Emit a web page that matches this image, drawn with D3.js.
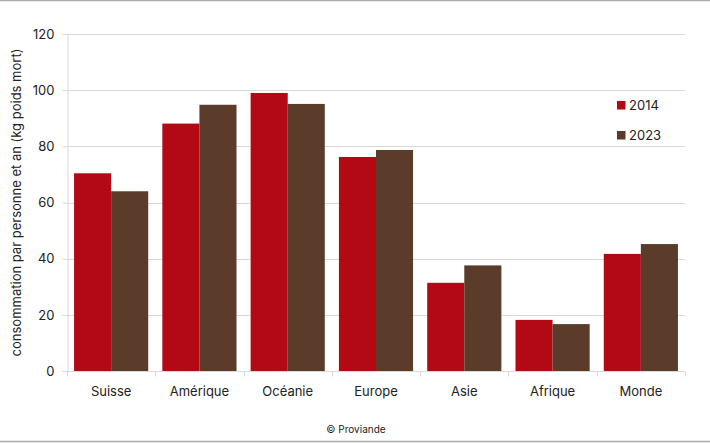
<!DOCTYPE html>
<html><head><meta charset="utf-8">
<script src="https://cdn.jsdelivr.net/npm/d3@7"></script>
<style>body{margin:0;background:#fff}svg{display:block;font-family:Inter,"Open Sans",sans-serif}</style>
</head><body><svg id="c" width="710" height="443"></svg>
<script>
const categories = ["Suisse","Amérique","Océanie","Europe","Asie","Afrique","Monde"];
const series = ["2014","2023"];
const values2014 = [70.4,88.1,99.0,76.2,31.4,18.2,41.7];
const values2023 = [64.0,94.8,95.1,78.7,37.6,16.7,45.2];
const yTicks = [0,20,40,60,80,100,120];
const colors = ["#b30914","#5b3b2a"];
const yTitle = "consommation par personne et an (kg poids mort)";
const credit = "© Proviande";

const svg = d3.select("#c");
const W=710,H=443;
const m={l:67,r:25,t:34,b:72};
const x = d3.scaleBand().domain(categories).range([m.l,W-m.r]).paddingInner(0.16).paddingOuter(0.08);
const x1 = d3.scaleBand().domain(series).range([0,x.bandwidth()]).padding(0);
const y = d3.scaleLinear().domain([0,120]).range([H-m.b,m.t]);

svg.append("line").attr("x1",0).attr("x2",W).attr("y1",0.5).attr("y2",0.5).attr("stroke","#aaa").attr("stroke-width",1.5);
svg.append("line").attr("x1",0).attr("x2",W).attr("y1",441.5).attr("y2",441.5).attr("stroke","#aaa").attr("stroke-width",1.5);

// grid
svg.append("g").selectAll("line").data(yTicks.filter(d=>d>0)).join("line")
  .attr("x1",m.l).attr("x2",W-m.r).attr("y1",d=>Math.round(y(d))+0.5).attr("y2",d=>Math.round(y(d))+0.5)
  .attr("stroke","#d9d9d9");

// y axis
const ya = svg.append("g").attr("transform",`translate(${m.l+0.5},0)`)
  .call(d3.axisLeft(y).tickValues(yTicks).tickSize(5).tickPadding(8));
ya.select(".domain").attr("stroke","#d9d9d9");
ya.selectAll(".tick line").attr("stroke","#d9d9d9");
ya.selectAll("text").attr("font-size",13).attr("fill","#222").attr("font-family","Inter, sans-serif");

// x axis with ticks at band boundaries
const xa = svg.append("g").attr("transform",`translate(0,${Math.round(y(0))+0.5})`);
xa.append("line").attr("x1",m.l).attr("x2",W-m.r).attr("stroke","#d9d9d9");
const bounds = categories.map(c=>x(c)-x.step()*x.paddingInner()/2).concat([W-m.r]);
bounds[0]=m.l;
xa.selectAll(".tk").data(bounds).join("line").attr("class","tk")
  .attr("x1",d=>Math.round(d)+0.5).attr("x2",d=>Math.round(d)+0.5).attr("y1",0).attr("y2",5).attr("stroke","#d9d9d9");
xa.selectAll("text").data(categories).join("text")
  .attr("x",d=>x(d)+x.bandwidth()/2).attr("y",20).attr("dy","0.35em")
  .attr("text-anchor","middle").attr("font-size",13).attr("fill","#222").text(d=>d);

// bars
const data = categories.map((c,i)=>({c, v:[values2014[i],values2023[i]]}));
const g = svg.append("g").selectAll("g").data(data).join("g").attr("transform",d=>`translate(${x(d.c)},0)`);
g.selectAll("rect").data(d=>d.v.map((v,j)=>({s:series[j],v,j}))).join("rect")
  .attr("x",d=>x1(d.s)).attr("width",x1.bandwidth())
  .attr("y",d=>y(d.v)).attr("height",d=>y(0)-y(d.v)).attr("fill",d=>colors[d.j]);

// legend
const lg = svg.append("g").selectAll("g").data(series).join("g")
  .attr("transform",(d,i)=>`translate(617,${105+i*30})`);
lg.append("rect").attr("x",0).attr("y",-4).attr("width",8.5).attr("height",8.5).attr("fill",(d,i)=>colors[i]);
lg.append("text").attr("x",12).attr("y",0).attr("dy","0.35em").attr("font-size",13).attr("fill","#222").text(d=>d);

// y title
svg.append("text").attr("transform",`translate(16,${(y(0)+y(120))/2}) rotate(-90)`)
  .attr("text-anchor","middle").attr("dy","0.35em").attr("font-size",13).attr("fill","#222").text(yTitle);

// credit
svg.append("text").attr("x",356).attr("y",429).attr("dy","0.35em").attr("text-anchor","middle")
  .attr("font-size",10).attr("fill","#222").text(credit);
</script></body></html>
